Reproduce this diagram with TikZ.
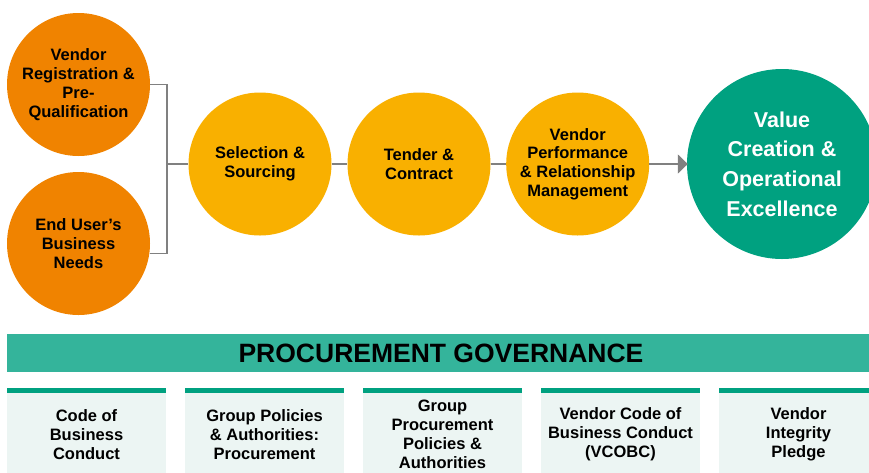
\documentclass[tikz,border=0pt]{standalone}
\usepackage{fontspec}
\setmainfont{Liberation Sans}
\usetikzlibrary{arrows.meta,positioning}
\definecolor{inorange}{RGB}{240,131,0}
\definecolor{stageyellow}{RGB}{249,176,0}
\definecolor{valuegreen}{RGB}{0,161,128}
\definecolor{govgreen}{RGB}{52,180,155}
\definecolor{boxmint}{RGB}{236,245,243}
\definecolor{linkgray}{RGB}{128,128,128}
\tikzset{
  stage/.style={circle,minimum size=143pt,inner sep=0pt,align=center,
    font=\bfseries\fontsize{16.5}{18.8}\selectfont},
  link/.style={draw=linkgray,line width=1.5pt},
  govbox/.style={anchor=north,fill=boxmint,minimum width=159pt,minimum height=92pt,
    inner sep=0pt,align=center,font=\bfseries\fontsize{16.5}{18.8}\selectfont},
}
\begin{document}
\begin{tikzpicture}[x=1pt,y=-1pt]
\clip (0,0) rectangle (869,472);
\fill[white] (0,0) rectangle (869,472);
% inputs
\node[stage,fill=inorange] (reg) at (78.5,84.5) {Vendor\\Registration \&\\Pre-\\Qualification};
\node[stage,fill=inorange] (needs) at (78.5,243.5) {End User’s\\Business\\Needs};
% main flow
\node[stage,fill=stageyellow] (sel) at (260,164) {Selection \&\\Sourcing};
\node[stage,fill=stageyellow] (tender) at (419,164) {Tender \&\\Contract};
\node[stage,fill=stageyellow] (vpm) at (577.7,164) {Vendor\\Performance\\\& Relationship\\Management};
\node[circle,fill=valuegreen,minimum size=190pt,inner sep=0pt,align=center,text=white,
  font=\bfseries\fontsize{21.5}{29.7}\selectfont] (value) at (782,164)
  {Value\\Creation \&\\Operational\\Excellence};
\coordinate (join) at (167,164);
\draw[link] (reg.east) -| (join);
\draw[link] (needs.-8.4) -| (join) -- (sel.west);
\draw[link] (sel) -- (tender);
\draw[link] (tender) -- (vpm);
\draw[link,-{Triangle[length=10pt,width=19pt]},shorten >=-1pt] (vpm) -- (value);
% governance
\node[fill=govgreen,minimum width=868pt,minimum height=38pt,inner sep=0pt,
  font=\bfseries\fontsize{26.5}{30}\selectfont] (gov) at (441,353) {PROCUREMENT GOVERNANCE};
\foreach \lab [count=\i from 0] in {{Code of\\Business\\Conduct},
  {Group Policies\\\& Authorities:\\Procurement},
  {Group\\Procurement\\Policies \&\\Authorities},
  {Vendor Code of\\Business Conduct\\(VCOBC)},
  {Vendor\\Integrity\\Pledge}}{
  \node[govbox] (pol\i) at (86.5+178*\i,388.3) {\lab};
  \fill[valuegreen] (pol\i.north west) rectangle ([yshift=-5pt]pol\i.north east);}
\end{tikzpicture}
\end{document}
